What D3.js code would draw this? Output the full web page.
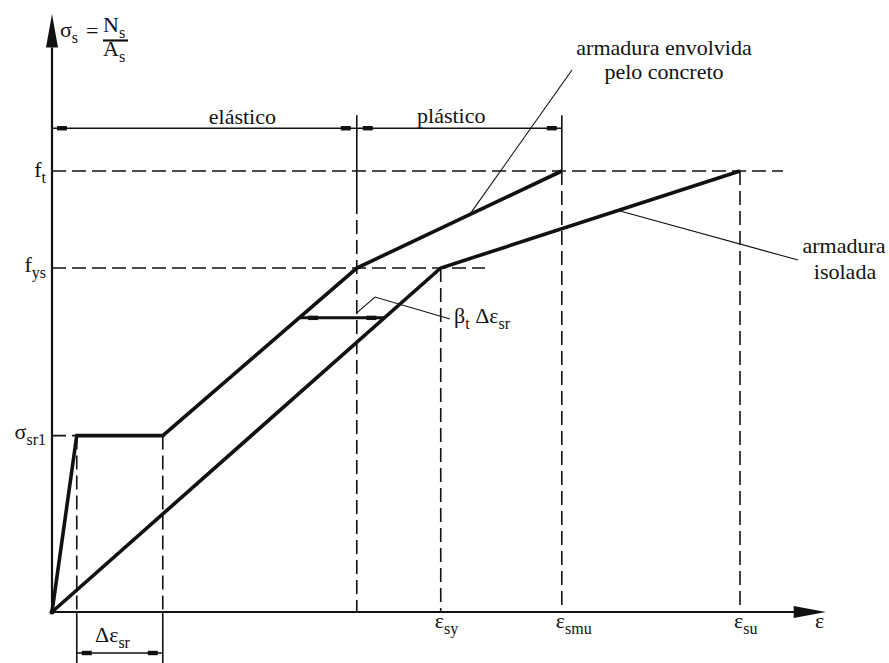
<!DOCTYPE html>
<html><head><meta charset="utf-8">
<script src="https://cdn.jsdelivr.net/npm/d3@7"></script>
<style>
html,body{margin:0;padding:0;background:#fff;}
svg text{font-family:'Liberation Serif','DejaVu Serif','Times New Roman',serif;fill:#111;}
</style></head>
<body><svg id="chart" width="889" height="663" font-family="Liberation Serif, DejaVu Serif, serif"></svg>
<script>
// ---- data (abstract strain / stress units) ----
const envolvidaStrain = [0, 0.36, 1.61, 4.43, 7.41];
const envolvidaStress = [0, 4.0, 4.0, 7.8, 10];
const isoladaStrain = [0, 5.65, 10];
const isoladaStress = [0, 7.8, 10];
const stressTickValues = [10, 7.8, 4.0];
const stressTickMain = ["f", "f", "σ"];
const stressTickSub = ["t", "ys", "sr1"];
const strainTickValues = [5.65, 7.41, 10];
const strainTickSub = ["sy", "smu", "su"];
const deltaStrainSr = [0.36, 1.61];
const elasticRange = [0, 4.43];
const plasticRange = [4.43, 7.41];
const betaStress = 6.67;

const FONT = "'Liberation Serif', 'DejaVu Serif', serif";
const svg = d3.select("#chart");
const x = d3.scaleLinear().domain([0, 10]).range([52, 740]);
const y = d3.scaleLinear().domain([0, 10]).range([612, 171]);
const FS = 22, SFS = 16;

function interp(xs, ys, sv) {
  for (let i = 1; i < xs.length; i++) {
    if ((ys[i-1] - sv) * (ys[i] - sv) <= 0 && ys[i] !== ys[i-1]) {
      return xs[i-1] + (sv - ys[i-1]) * (xs[i] - xs[i-1]) / (ys[i] - ys[i-1]);
    }
  }
  return null;
}
function stressAt(xs, ys, ev) {
  for (let i = 1; i < xs.length; i++) {
    if (ev >= xs[i-1] && ev <= xs[i]) return ys[i-1] + (ev - xs[i-1]) * (ys[i] - ys[i-1]) / (xs[i] - xs[i-1]);
  }
  return null;
}
function line(x1, y1, x2, y2, w, dash, col) {
  const l = svg.append("line").attr("x1", x1).attr("y1", y1).attr("x2", x2).attr("y2", y2)
    .attr("stroke", col || "#111").attr("stroke-width", w);
  if (dash) l.attr("stroke-dasharray", dash);
  return l;
}
const DASH = "14,6";
function tick(cx, cy) {
  svg.append("rect").attr("x", cx - 5).attr("y", cy - 2.2).attr("width", 10).attr("height", 4.4).attr("fill", "#111");
}
function txt(px, py, s, anchor) {
  return svg.append("text").attr("x", px).attr("y", py).attr("font-size", FS)
    .attr("font-family", FONT).attr("text-anchor", anchor || "start").text(s);
}
function subText(px, py, main, sub, anchor, extra) {
  const t = svg.append("text").attr("x", px).attr("y", py).attr("font-size", FS)
    .attr("font-family", FONT).attr("text-anchor", anchor || "start");
  t.append("tspan").text(main);
  t.append("tspan").attr("font-size", SFS).attr("dy", 6).text(sub);
  if (extra) {
    t.append("tspan").attr("dy", -6).text(extra[0]);
    t.append("tspan").attr("font-size", SFS).attr("dy", 6).text(extra[1]);
  }
  return t;
}

// ---- reference dashed lines ----
line(x(0), y(10), 783, y(10), 1.6, DASH);
line(x(0), y(7.8), 485, y(7.8), 1.6, DASH);
line(x(0), y(4.0), x(deltaStrainSr[0]), y(4.0), 1.6, DASH);

deltaStrainSr.forEach(v => {
  line(x(v), y(4.0), x(v), y(0), 1.6, DASH);
  line(x(v), y(0), x(v), 663, 1.6);
});
line(x(4.43), y(10.97) - 13, x(4.43), 200, 1.6);
line(x(4.43), 200, x(4.43), y(0), 1.6, DASH);
line(x(5.65), y(7.8), x(5.65), y(0), 1.6, DASH);
line(x(7.41), y(10.97) - 13, x(7.41), y(10), 1.6);
line(x(7.41), y(10), x(7.41), y(0), 1.6, DASH);
line(x(10), y(10), x(10), y(0), 1.6, DASH);

// ---- axes ----
line(x(0), y(0), x(0), y(12.8), 2.2);
svg.append("polygon").attr("points", [[x(0), y(13.56)], [x(0) + 6, y(12.8)], [x(0) - 6, y(12.8)]].map(p => p.join(",")).join(" ")).attr("fill", "#111");
line(x(0), y(0), x(10.8), y(0), 2.2);
svg.append("polygon").attr("points", [[x(11.25), y(0)], [x(10.78), y(0) - 6], [x(10.78), y(0) + 6]].map(p => p.join(",")).join(" ")).attr("fill", "#111");
svg.append("circle").attr("cx", x(0)).attr("cy", y(0)).attr("r", 2.5).attr("fill", "#111");

// ---- dimension lines elástico / plástico ----
const dimY = y(10.97);
line(x(elasticRange[0]), dimY, x(elasticRange[1]), dimY, 1.6);
line(x(plasticRange[0]), dimY, x(plasticRange[1]), dimY, 1.6);
tick(x(elasticRange[0]) + 10, dimY); tick(x(elasticRange[1]) - 11, dimY);
tick(x(plasticRange[0]) + 11, dimY); tick(x(plasticRange[1]) - 10, dimY);
txt((x(elasticRange[0]) + x(elasticRange[1])) / 2 + 38, dimY - 4, "elástico", "middle");
txt((x(plasticRange[0]) + x(plasticRange[1])) / 2 - 8, dimY - 5, "plástico", "middle");

// Δε_sr dimension
const dsY = 653;
line(x(deltaStrainSr[0]), dsY, x(deltaStrainSr[1]), dsY, 1.6);
tick(x(deltaStrainSr[0]) + 10, dsY); tick(x(deltaStrainSr[1]) - 10, dsY);
subText(95, 642, "Δε", "sr");

// ---- curves ----
const lg = d3.line().x(d => x(d[0])).y(d => y(d[1]));
svg.append("path").datum(envolvidaStrain.map((v, i) => [v, envolvidaStress[i]])).attr("d", lg)
  .attr("fill", "none").attr("stroke", "#111").attr("stroke-width", 3.6).attr("stroke-linejoin", "miter");
svg.append("path").datum(isoladaStrain.map((v, i) => [v, isoladaStress[i]])).attr("d", lg)
  .attr("fill", "none").attr("stroke", "#111").attr("stroke-width", 3.6).attr("stroke-linejoin", "miter");

// β_t Δε_sr dimension
const bx1 = interp(envolvidaStrain.slice(2), envolvidaStress.slice(2), betaStress);
const bx2 = interp(isoladaStrain, isoladaStress, betaStress);
line(x(bx1), y(betaStress), x(bx2), y(betaStress), 3);
tick(x(bx1) + 14, y(betaStress)); tick(x(bx2) - 13, y(betaStress));
svg.append("polyline").attr("points", [[x(4.43), y(betaStress) - 5], [375, 297], [450, 319]].map(p => p.join(",")).join(" "))
  .attr("fill", "none").attr("stroke", "#111").attr("stroke-width", 1.1);
subText(454, 323, "β", "t", "start", [" Δε", "sr"]);

// ---- annotations ----
const envTouch = 6.07;
line(572, 70, x(envTouch), y(stressAt(envolvidaStrain, envolvidaStress, envTouch)), 1.1);
txt(664, 55, "armadura envolvida", "middle");
txt(664, 79, "pelo concreto", "middle");
const isoTouch = 8.23;
line(x(isoTouch), y(stressAt(isoladaStrain, isoladaStress, isoTouch)), 798, 260, 1.1);
txt(844, 253, "armadura", "middle");
txt(845, 279, "isolada", "middle");

// ---- tick labels ----
const yOff = [6, 4, 3];
stressTickValues.forEach((v, i) => {
  subText(46, y(v) + yOff[i], stressTickMain[i], stressTickSub[i], "end");
});
strainTickValues.forEach((v, i) => {
  subText(x(v) - 6, 628, "ε", strainTickSub[i]);
});
txt(815, 628, "ε");

// ---- y axis title σs = Ns / As ----
subText(60, 37, "σ", "s");
txt(86, 38, "=");
subText(103, 32, "N", "s");
line(103, 40.5, 128, 40.5, 2.2);
subText(103, 56, "A", "s");
</script></body></html>
